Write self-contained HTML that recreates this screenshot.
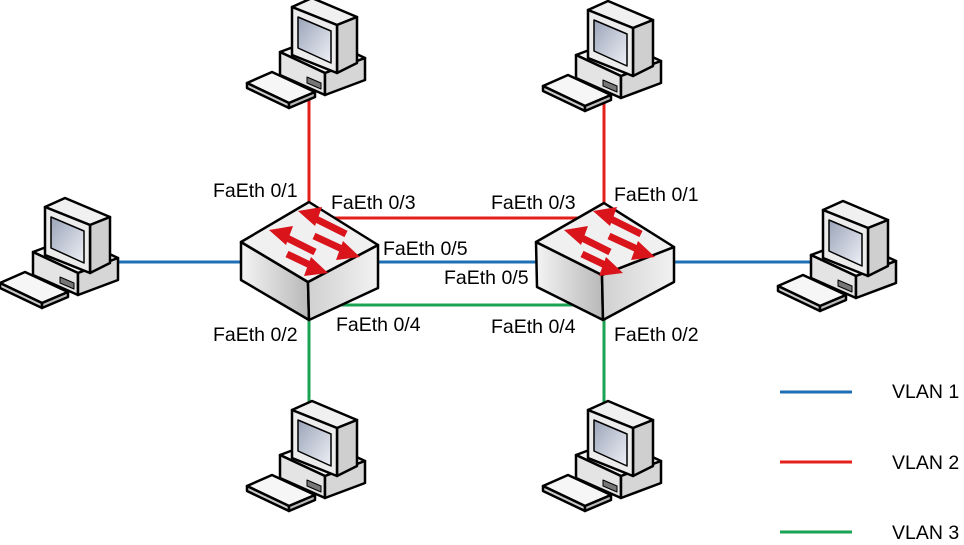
<!DOCTYPE html>
<html><head><meta charset="utf-8"><style>
html,body{margin:0;padding:0;background:#fff;width:964px;height:545px;overflow:hidden}
text{font-family:"Liberation Sans",Arial,sans-serif;font-size:19.5px;fill:#000}
</style></head><body>
<svg width="964" height="545" viewBox="0 0 964 545" xmlns="http://www.w3.org/2000/svg">
<defs>
<linearGradient id="sf" x1="0" y1="0" x2="1" y2="0"><stop offset="0" stop-color="#f4f4f4"/><stop offset="1" stop-color="#b8b8b8"/></linearGradient>
<linearGradient id="sr" x1="0" y1="0" x2="1" y2="0"><stop offset="0" stop-color="#d0d0d0"/><stop offset="1" stop-color="#f2f2f2"/></linearGradient>
<linearGradient id="scr" x1="0" y1="0" x2="1" y2="1"><stop offset="0" stop-color="#9aa4b8"/><stop offset="1" stop-color="#eef0f6"/></linearGradient>
<g id="pc" stroke="#000" stroke-width="2.5" stroke-linejoin="round">
<polygon points="33,57 73,42 118,63 78,78" fill="#f4f4f4"/>
<polygon points="33,57 78,78 78,100 33,80" fill="#e4e4e4"/>
<polygon points="78,78 118,63 118,85 78,100" fill="#d6d6d6"/>
<polygon points="45,12 65,3 110,22 90,30" fill="#f0f0f0"/>
<polygon points="90,30 110,22 110,68 90,78" fill="#cfcfcf"/>
<polygon points="45,12 90,30 90,78 45,60" fill="#ececec"/>
<polygon points="51,22 84,36 84,68 51,53" fill="url(#scr)" stroke-width="1.5"/>
<polygon points="60,82 74,88 74,94 60,88" fill="#777" stroke-width="1"/>
<polygon points="0,88 25,77 68,97 42,108" fill="#f6f6f6"/>
<polygon points="0,88 42,108 42,113 0,93" fill="#ccc"/>
<polygon points="42,108 68,97 68,102 42,113" fill="#bbb"/>
</g>
</defs>

<g stroke-width="3" fill="none">
<line x1="309" y1="95" x2="309" y2="205" stroke="#e3201b"/>
<line x1="604" y1="100" x2="604" y2="205" stroke="#e3201b"/>
<line x1="330" y1="218" x2="580" y2="218" stroke="#e3201b"/>
<line x1="118" y1="262" x2="242" y2="262" stroke="#1f6fb5"/>
<line x1="376" y1="262" x2="537" y2="262" stroke="#1f6fb5"/>
<line x1="672" y1="262" x2="815" y2="262" stroke="#1f6fb5"/>
<line x1="330" y1="305" x2="580" y2="305" stroke="#1aa352"/>
<line x1="309" y1="318" x2="309" y2="410" stroke="#1aa352"/>
<line x1="604" y1="318" x2="604" y2="412" stroke="#1aa352"/>
<line x1="780" y1="392" x2="852" y2="392" stroke="#1f6fb5"/>
<line x1="780" y1="462" x2="852" y2="462" stroke="#e3201b"/>
<line x1="780" y1="532" x2="852" y2="532" stroke="#1aa352"/>
</g>

<g stroke="#000" stroke-width="2.5" stroke-linejoin="round">
<polygon points="241,242 308,282 309,320 241,280" fill="url(#sf)"/>
<polygon points="308,282 378,245 378,288 309,320" fill="url(#sr)"/>
<polygon points="309,202 378,245 308,282 241,242" fill="#f0f0f0"/>
<polygon points="536,242 602,275 603,320 537,287" fill="url(#sf)"/>
<polygon points="602,275 674,247 674,282 603,320" fill="url(#sr)"/>
<polygon points="604,203 674,247 602,275 536,242" fill="#f0f0f0"/>
</g>
<g stroke="#d9141b" stroke-width="7" fill="#d9141b">
<g id="arr">
<line x1="346" y1="234" x2="316" y2="219"/><polygon points="298,211 322,207 315,226" stroke="none"/>
<line x1="315" y1="252" x2="287" y2="238"/><polygon points="269,230 293,226 286,245" stroke="none"/>
<line x1="314" y1="236" x2="342" y2="249"/><polygon points="360,257 336,260 343,241" stroke="none"/>
<line x1="287" y1="254" x2="310" y2="265"/><polygon points="328,273 304,276 311,257" stroke="none"/>
</g>
<use href="#arr" transform="translate(295,0)"/>
</g>

<use href="#pc" transform="translate(0,195)"/>
<use href="#pc" transform="translate(247,-5)"/>
<use href="#pc" transform="translate(543,-2)"/>
<use href="#pc" transform="translate(778,198)"/>
<use href="#pc" transform="translate(247,398)"/>
<use href="#pc" transform="translate(543,398)"/>

<text x="213" y="197">FaEth 0/1</text>
<text x="331" y="209">FaEth 0/3</text>
<text x="491" y="209">FaEth 0/3</text>
<text x="614" y="201">FaEth 0/1</text>
<text x="383" y="255">FaEth 0/5</text>
<text x="444" y="284">FaEth 0/5</text>
<text x="213" y="341">FaEth 0/2</text>
<text x="336" y="331">FaEth 0/4</text>
<text x="491" y="333">FaEth 0/4</text>
<text x="614" y="341">FaEth 0/2</text>
<text x="892" y="398">VLAN 1</text>
<text x="892" y="469">VLAN 2</text>
<text x="892" y="539">VLAN 3</text>
</svg>
</body></html>
